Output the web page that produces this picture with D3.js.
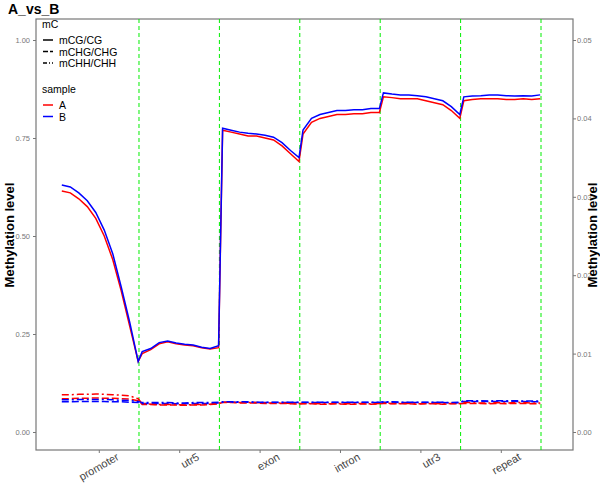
<!DOCTYPE html><html><head><meta charset="utf-8"><script src="https://cdn.jsdelivr.net/npm/d3@7"></script>
<style>body{margin:0;background:#fff}text{font-family:"Liberation Sans",Arial,sans-serif}</style></head><body><svg id="c" width="600" height="500"></svg>
<script>
const regions=["promoter","utr5","exon","intron","utr3","repeat"];
const cgA=[0.615,0.61,0.595,0.575,0.545,0.5,0.44,0.36,0.27,0.18, 0.20,0.21,0.225,0.23,0.225,0.222,0.22,0.215,0.212,0.215, 0.77,0.765,0.76,0.755,0.755,0.75,0.745,0.73,0.71,0.69, 0.76,0.79,0.80,0.805,0.81,0.81,0.812,0.812,0.815,0.815, 0.855,0.853,0.85,0.85,0.85,0.845,0.84,0.835,0.82,0.80, 0.845,0.848,0.85,0.85,0.85,0.848,0.848,0.85,0.848,0.85];
const cgB=[0.63,0.625,0.61,0.59,0.56,0.515,0.455,0.37,0.28,0.18, 0.205,0.213,0.228,0.232,0.227,0.224,0.222,0.216,0.213,0.22, 0.775,0.77,0.765,0.762,0.76,0.757,0.752,0.738,0.718,0.70, 0.77,0.80,0.81,0.815,0.82,0.82,0.822,0.822,0.825,0.825, 0.865,0.862,0.86,0.86,0.858,0.855,0.85,0.845,0.83,0.81, 0.855,0.857,0.858,0.86,0.86,0.858,0.857,0.858,0.857,0.86];
const chgA=[0.085,0.085,0.086,0.086,0.087,0.086,0.086,0.085,0.084,0.08, 0.07,0.07,0.069,0.069,0.069,0.068,0.069,0.069,0.07,0.072, 0.075,0.075,0.074,0.074,0.074,0.073,0.073,0.073,0.072,0.071, 0.072,0.072,0.071,0.071,0.072,0.071,0.071,0.072,0.071,0.072, 0.073,0.072,0.072,0.072,0.071,0.072,0.072,0.071,0.072,0.072, 0.073,0.073,0.073,0.072,0.073,0.072,0.073,0.073,0.072,0.072];
const chhA=[0.095,0.095,0.096,0.096,0.097,0.096,0.095,0.094,0.092,0.085, 0.072,0.071,0.07,0.07,0.07,0.069,0.07,0.07,0.071,0.073, 0.076,0.076,0.075,0.075,0.075,0.074,0.074,0.074,0.073,0.073, 0.073,0.073,0.072,0.072,0.073,0.072,0.072,0.073,0.072,0.073, 0.074,0.073,0.073,0.073,0.072,0.073,0.073,0.072,0.073,0.073, 0.075,0.075,0.074,0.074,0.075,0.074,0.075,0.075,0.074,0.074];
const chgB=[0.077,0.077,0.078,0.078,0.078,0.078,0.077,0.077,0.076,0.075, 0.073,0.073,0.073,0.073,0.072,0.072,0.073,0.073,0.073,0.074, 0.076,0.076,0.076,0.076,0.075,0.075,0.075,0.075,0.075,0.075, 0.075,0.075,0.075,0.075,0.075,0.075,0.075,0.075,0.075,0.075, 0.076,0.076,0.075,0.075,0.075,0.075,0.075,0.075,0.074,0.075, 0.078,0.078,0.078,0.078,0.078,0.078,0.078,0.078,0.077,0.077];
const chhB=[0.082,0.082,0.083,0.083,0.083,0.083,0.082,0.081,0.08,0.078, 0.075,0.075,0.075,0.075,0.074,0.074,0.075,0.075,0.075,0.076, 0.077,0.077,0.077,0.077,0.076,0.076,0.076,0.076,0.076,0.076, 0.076,0.076,0.076,0.076,0.076,0.076,0.076,0.076,0.076,0.076, 0.077,0.077,0.076,0.076,0.076,0.076,0.076,0.076,0.075,0.076, 0.08,0.08,0.08,0.079,0.08,0.08,0.08,0.079,0.079,0.079];
const leftTicks=[0,0.25,0.5,0.75,1];
const rightTicks=[0,0.01,0.02,0.03,0.04,0.05];
const svg=d3.select("#c");
const L=36,R=573,T=19,B=450;
const x=d3.scaleLinear().domain([-0.281,6.398]).range([L,R]);
const y=d3.scaleLinear().domain([0,1]).range([432,40]);
const y2=d3.scaleLinear().domain([0,0.05]).range([432,40]);
const n=10;
const xi=i=>{const r=Math.floor(i/n),k=i%n;return r+0.04+k/(n-1)*0.95;};
svg.append("rect").attr("x",L).attr("y",T).attr("width",R-L).attr("height",B-T).attr("fill","none").attr("stroke","#777").attr("stroke-width",1.2);
for(let r=1;r<=6;r++){svg.append("line").attr("x1",x(r)).attr("x2",x(r)).attr("y1",T).attr("y2",B).attr("stroke","#00ee00").attr("stroke-dasharray","4,3").attr("stroke-width",1);}
const line=d3.line().x((d,i)=>x(xi(i))).y(d=>y(d));
const series=[[cgA,"red",null],[cgB,"blue",null],[chgA,"red","7,3"],[chgB,"blue","7,3"],[chhA,"red","7,3,2,3"],[chhB,"blue","7,3,2,3"]];
series.forEach(([d,c,da])=>svg.append("path").datum(d).attr("d",line).attr("fill","none").attr("stroke",c).attr("stroke-width",1.5).attr("stroke-dasharray",da));
const ax=svg.append("g").attr("transform",`translate(0,${B})`).call(d3.axisBottom(x).tickValues([0.5,1.5,2.5,3.5,4.5,5.5]).tickFormat((d,i)=>regions[i]).tickSize(3).tickSizeOuter(0));
ax.select(".domain").remove();
ax.selectAll("text").attr("transform","rotate(-30)").attr("text-anchor","end").attr("dx","1.2em").attr("dy","1.1em").attr("font-size",11).attr("fill","#444");
const ay=svg.append("g").attr("transform",`translate(${L},0)`).call(d3.axisLeft(y).tickValues(leftTicks).tickFormat(d3.format(".2f")).tickSize(3));
ay.select(".domain").remove();ay.selectAll("text").attr("font-size",7.5).attr("fill","#777");
const ay2=svg.append("g").attr("transform",`translate(${R},0)`).call(d3.axisRight(y2).tickValues(rightTicks).tickFormat(d3.format(".2f")).tickSize(3).tickPadding(1));
ay2.select(".domain").remove();ay2.selectAll("text").attr("font-size",7.5).attr("fill","#777");
svg.selectAll(".tick line").attr("stroke","#777");
svg.append("text").attr("x",8).attr("y",14).text("A_vs_B").attr("font-size",14).attr("font-weight","bold");
svg.append("text").attr("transform","translate(14,235) rotate(-90)").attr("text-anchor","middle").text("Methylation level").attr("font-size",13).attr("font-weight","bold");
svg.append("text").attr("transform","translate(597,235) rotate(-90)").attr("text-anchor","middle").text("Methylation level").attr("font-size",13).attr("font-weight","bold");
const lg=svg.append("g").attr("font-size",10.5);
lg.append("text").attr("x",42).attr("y",28).text("mC");
[["mCG/CG",null],["mCHG/CHG","5,2"],["mCHH/CHH","4,2,1,2"]].forEach(([t,da],i)=>{const yy=40+i*11.5;lg.append("line").attr("x1",43).attr("x2",53).attr("y1",yy).attr("y2",yy).attr("stroke","#000").attr("stroke-width",1.5).attr("stroke-dasharray",da);lg.append("text").attr("x",59).attr("y",yy+4).text(t);});
lg.append("text").attr("x",42).attr("y",93).text("sample");
[["A","red"],["B","blue"]].forEach(([t,c],i)=>{const yy=105+i*11.5;lg.append("line").attr("x1",43).attr("x2",53).attr("y1",yy).attr("y2",yy).attr("stroke",c).attr("stroke-width",1.5);lg.append("text").attr("x",59).attr("y",yy+4).text(t);});
</script></body></html>
